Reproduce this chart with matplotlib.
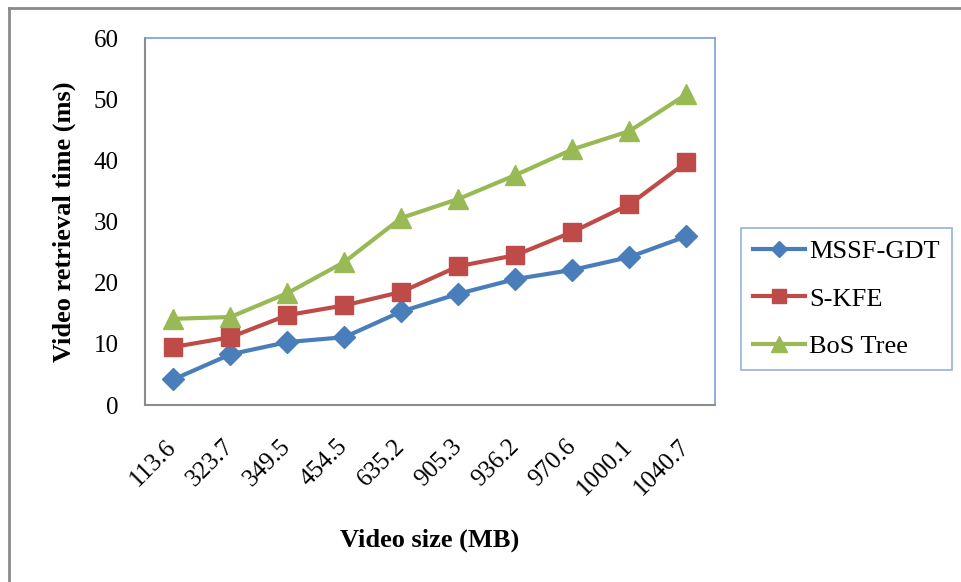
import matplotlib
matplotlib.use("Agg")
import matplotlib.pyplot as plt
import matplotlib.transforms as mtransforms
from matplotlib.lines import Line2D

plt.rcParams['font.family'] = ['Liberation Serif', 'DejaVu Serif']

# video sizes (MB) shown as category labels
sizes = ["113.6", "323.7", "349.5", "454.5", "635.2",
         "905.3", "936.2", "970.6", "1000.1", "1040.7"]

# retrieval time in ms for each method
mssf_gdt = [4.2, 8.3, 10.3, 11.1, 15.3, 18.2, 20.6, 22.1, 24.2, 27.6]
s_kfe = [9.5, 11.1, 14.7, 16.3, 18.5, 22.7, 24.5, 28.3, 32.8, 39.7]
bos_tree = [14.1, 14.4, 18.3, 23.4, 30.6, 33.7, 37.6, 41.8, 44.8, 50.8]

yticks = [0, 10, 20, 30, 40, 50, 60]

fig = plt.figure(figsize=(9.62, 5.82), dpi=100)
ax = fig.add_axes([0.1507, 0.304, 0.5925, 0.6306])

x = list(range(len(sizes)))
ax.plot(x, mssf_gdt, color="#4A7EBB", lw=3, marker="D", ms=11, label="MSSF-GDT")
ax.plot(x, s_kfe, color="#BE4B48", lw=3, marker="s", ms=13, label="S-KFE")
ax.plot(x, bos_tree, color="#98B954", lw=3, marker="^", ms=15, label="BoS Tree")

ax.set_xlim(-0.5, len(sizes) - 0.5)
ax.set_ylim(0, 60)
ax.set_yticks(yticks)
ax.set_xticks(x)
ax.set_xticklabels(sizes, rotation=45, ha="right", rotation_mode="anchor")
ax.tick_params(axis="both", length=0, labelsize=18)
ax.tick_params(axis="y", pad=19)
ax.tick_params(axis="x", pad=22)

# nudge the rotated size labels a little to the left
shift = mtransforms.ScaledTranslation(-8 / 100, 0, fig.dpi_scale_trans)
for lbl in ax.get_xticklabels():
    lbl.set_transform(lbl.get_transform() + shift)

for side in ["left", "bottom"]:
    ax.spines[side].set_color("#8c8c8c")
    ax.spines[side].set_linewidth(1.5)
for side in ["top", "right"]:
    ax.spines[side].set_color("#7A9FD0")
    ax.spines[side].set_linewidth(1.2)

ax.set_xlabel("Video size (MB)", fontsize=19, fontweight="bold", labelpad=21)
ax.set_ylabel("Video retrieval time (ms)", fontsize=19, fontweight="bold", labelpad=13)

leg = fig.legend(loc="upper left", bbox_to_anchor=(0.770, 0.608),
                 bbox_transform=fig.transFigure, fontsize=19, fancybox=False,
                 handlelength=2.0, handletextpad=0.15, labelspacing=0.9,
                 borderpad=0.45, markerscale=0.75, borderaxespad=0)
leg.get_frame().set_edgecolor("#7A9FD0")
leg.get_frame().set_linewidth(1.2)

# gray frame along top and left edge of the figure
fig.add_artist(Line2D([9 / 962, 1.0], [1 - 8 / 582, 1 - 8 / 582],
                      transform=fig.transFigure, color="#8a8a8a", lw=2))
fig.add_artist(Line2D([9 / 962, 9 / 962], [0, 1 - 8 / 582],
                      transform=fig.transFigure, color="#8a8a8a", lw=2))

fig.savefig("out.png", dpi=100)
